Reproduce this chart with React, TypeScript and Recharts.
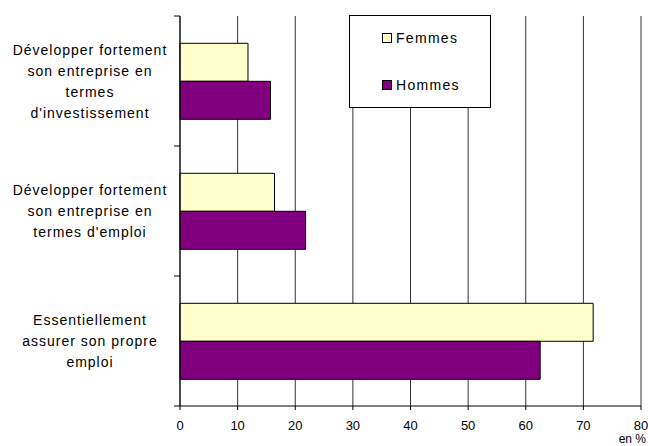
import { BarChart, Bar, XAxis, YAxis, CartesianGrid, Legend } from 'recharts';

const categories = [
  ['Développer fortement', 'son entreprise en', 'termes', "d'investissement"],
  ['Développer fortement', 'son entreprise en', "termes d'emploi"],
  ['Essentiellement', 'assurer son propre', 'emploi'],
];
const femmes = [11.8, 16.4, 71.7];
const hommes = [15.7, 21.8, 62.5];
const xTicks = [0, 10, 20, 30, 40, 50, 60, 70, 80];

const data = categories.map((lines, i) => ({
  name: lines.join(' '),
  lines,
  Femmes: femmes[i],
  Hommes: hommes[i],
}));

const FONT = '"Liberation Sans", Arial, sans-serif';

function CategoryTick(props: any) {
  const { x, y, payload, index, visibleTicksCount } = props;
  const half = payload.offset || 65;
  const lines: string[] = data[index]?.lines || [payload.value];
  const lineH = 21;
  const firstY = y - ((lines.length - 1) * lineH) / 2;
  return (
    <g>
      <line x1={x - 6} x2={x} y1={y - half} y2={y - half} stroke="#000" />
      {index === visibleTicksCount - 1 && (
        <line x1={x - 6} x2={x} y1={y + half} y2={y + half} stroke="#000" />
      )}
      <text
        x={x - 90}
        y={firstY}
        textAnchor="middle"
        dominantBaseline="central"
        fontFamily={FONT}
        fontSize={14}
        letterSpacing={1}
        fill="#000"
      >
        {lines.map((l, i) => (
          <tspan key={i} x={x - 90} y={firstY + i * lineH}>
            {l}
          </tspan>
        ))}
      </text>
    </g>
  );
}

function LegendBox(props: any) {
  const items = props.payload || [];
  return (
    <div
      style={{
        width: 142,
        height: 93,
        boxSizing: 'border-box',
        border: '1px solid #000',
        background: '#fff',
        position: 'relative',
        fontFamily: FONT,
        fontSize: 14,
        letterSpacing: 1.3,
        color: '#000',
      }}
    >
      {items.map((it: any, i: number) => (
        <div
          key={it.value}
          style={{
            position: 'absolute',
            left: 32,
            top: 13 + i * 47,
            display: 'flex',
            alignItems: 'center',
            lineHeight: '18px',
          }}
        >
          <span
            style={{
              display: 'inline-block',
              width: 8,
              height: 8,
              background: it.color,
              border: '1px solid #000',
              marginRight: 4,
            }}
          />
          {it.value}
        </div>
      ))}
    </div>
  );
}

export default function App() {
  return (
    <div style={{ position: 'absolute', left: 0, top: 0, background: '#fff' }}>
      <BarChart
        width={648}
        height={446}
        data={data}
        layout="vertical"
        margin={{ top: 16, right: 7, bottom: 0, left: 0 }}
        barCategoryGap="21%"
        barGap={0}
      >
        <CartesianGrid horizontal={false} stroke="#333" />
        <XAxis
          type="number"
          domain={[0, 80]}
          ticks={xTicks}
          interval={0}
          height={40}
          stroke="#000"
          tickSize={4}
          tickMargin={11}
          tick={{ fill: '#000', fontSize: 13, fontFamily: FONT }}
          label={{
            value: 'en %',
            position: 'insideBottomRight',
            offset: 3,
            dx: 8,
            fill: '#000',
            fontSize: 12,
            fontFamily: FONT,
          }}
        />
        <YAxis
          type="category"
          dataKey="name"
          width={180}
          stroke="#000"
          tickLine={false}
          tickSize={0}
          tickMargin={0}
          interval={0}
          tick={<CategoryTick />}
        />
        <Legend
          layout="horizontal"
          verticalAlign="middle"
          align="center"
          content={<LegendBox />}
          wrapperStyle={{ left: 349, top: 15, width: 142, height: 93 }}
        />
        <Bar dataKey="Femmes" fill="#FFFFCC" stroke="#000" strokeWidth={1} isAnimationActive={false} />
        <Bar dataKey="Hommes" fill="#800080" stroke="#000" strokeWidth={1} isAnimationActive={false} />
      </BarChart>
    </div>
  );
}
